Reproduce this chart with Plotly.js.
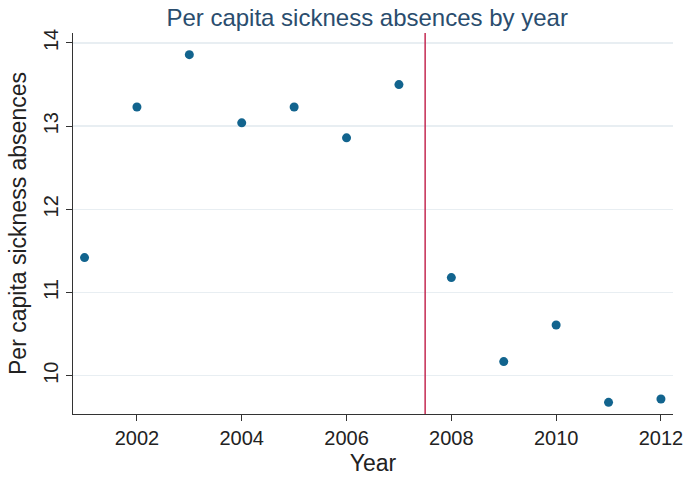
<!DOCTYPE html>
<html><head><meta charset="utf-8">
<script src="https://cdn.plot.ly/plotly-3.0.1.min.js"></script>
<style>body{margin:0}</style></head>
<body><div id="chart" style="width:685px;height:479px"></div>
<script>
const years = [2001,2002,2003,2004,2005,2006,2007,2008,2009,2010,2011,2012];
const absences = [11.42,13.23,13.86,13.04,13.23,12.86,13.50,11.18,10.17,10.61,9.68,9.72];
const cutoffYear = 2007.5;
const xTicks = [2002,2004,2006,2008,2010,2012];
const yTicks = [10,11,12,13,14];

const font = 'Liberation Sans, Arial, sans-serif';
Plotly.newPlot('chart', [{
  x: years, y: absences, type: 'scatter', mode: 'markers',
  marker: {color: '#12648e', size: 9}
}], {
  width: 685, height: 479,
  margin: {l: 73, r: 12, t: 33, b: 65},
  paper_bgcolor: '#ffffff', plot_bgcolor: '#ffffff',
  font: {family: font, color: '#222'},
  title: {text: 'Per capita sickness absences by year', font: {size: 24, color: '#2a4d6e', family: font}, x: 0.536, xanchor: 'center', y: 0.963, yanchor: 'middle'},
  xaxis: {range: [2000.78, 2012.23], tickvals: xTicks, ticktext: xTicks.map(String),
    showgrid: false, zeroline: false, showline: true, linecolor: '#333', linewidth: 1,
    ticks: 'outside', ticklen: 6, tickcolor: '#333', tickfont: {size: 20, color: '#222'},
    title: {text: 'Year', font: {size: 23, color: '#222'}, standoff: 6}},
  yaxis: {range: [9.54, 14.12], tickvals: yTicks, ticktext: yTicks.map(String), tickangle: -90,
    showgrid: true, gridcolor: '#e8eef2', gridwidth: 1.5, zeroline: false, showline: true, linecolor: '#333', linewidth: 1,
    ticks: 'outside', ticklen: 6, tickcolor: '#333', tickfont: {size: 20, color: '#222'},
    title: {text: 'Per capita sickness absences', font: {size: 23, color: '#222'}, standoff: 6}},
  shapes: [{type: 'line', xref: 'x', yref: 'paper', x0: cutoffYear, x1: cutoffYear, y0: 0, y1: 1,
    line: {color: '#c42a52', width: 1.5}}],
  showlegend: false
}, {staticPlot: true});
</script></body></html>
